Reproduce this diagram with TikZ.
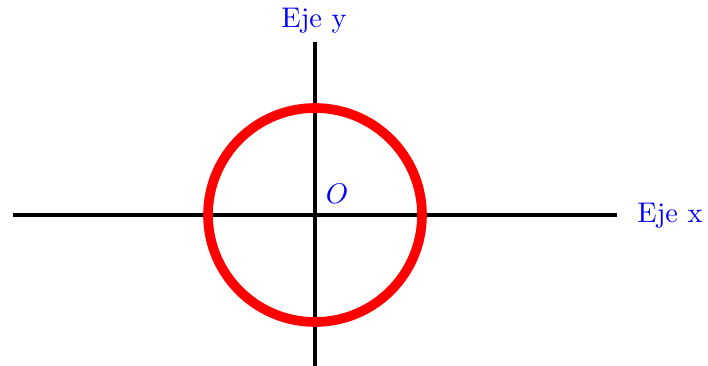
\documentclass[tikz,border=0pt]{standalone}
\begin{document}
\begin{tikzpicture}[x=0.352pt,y=-0.352pt,
  axisline/.style={line width=1.5pt,black},
  circ/.style={line width=3.4pt,red},
  lbl/.style={text=blue,inner sep=0pt,font=\fontsize{10}{12}\selectfont}]
\useasboundingbox (0,0) rectangle (708,366);
\coordinate (xl) at (12.5,215);
\coordinate (xr) at (617,215);
\coordinate (yt) at (315,42);
\coordinate (yb) at (315,366);
\coordinate (c) at (315,215);
\draw[axisline] (xl) -- (xr);
\draw[axisline] (yt) -- (yb);
\draw[circ] (c) circle[radius=107];
\node[lbl] (ex) at (670,216) {Eje x};
\node[lbl] (ey) at (314,21) {Eje y};
\node[lbl] (o) at (337,194) {$O$};
\end{tikzpicture}
\end{document}
